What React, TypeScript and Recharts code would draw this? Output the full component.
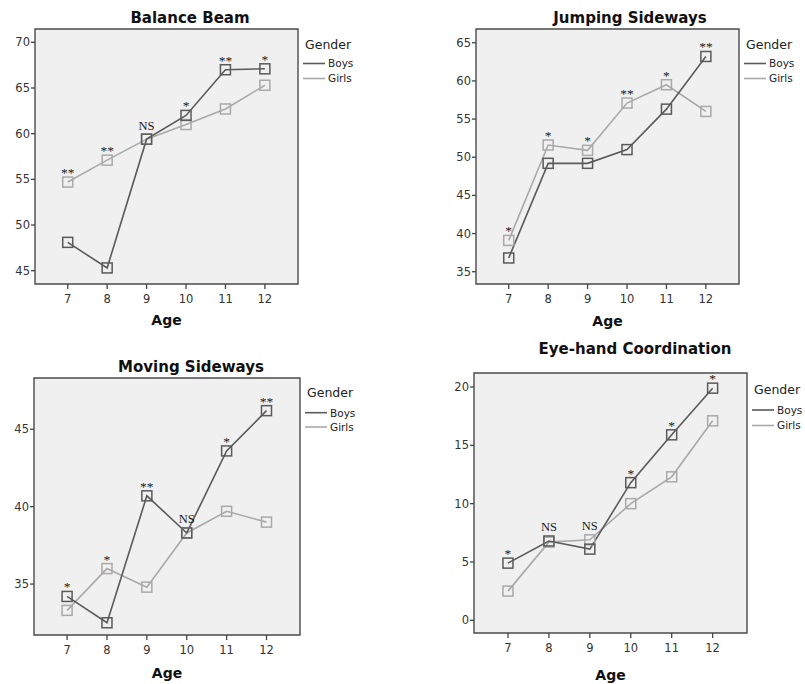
import React from 'react';
import { LineChart, Line, XAxis, YAxis, ReferenceArea, LabelList, Label } from 'recharts';

const ages = [7, 8, 9, 10, 11, 12];
const xTicks = [7, 8, 9, 10, 11, 12];

const balanceBoys = [48.1, 45.3, 59.4, 62.0, 67.0, 67.1];
const balanceGirls = [54.7, 57.1, 59.4, 61.0, 62.7, 65.3];
const balanceSig = ['**', '**', 'NS', '*', '**', '*'];
const balanceTicks = [45, 50, 55, 60, 65, 70];

const jumpBoys = [36.8, 49.2, 49.2, 51.0, 56.3, 63.2];
const jumpGirls = [39.1, 51.6, 50.9, 57.1, 59.5, 56.0];
const jumpSig = ['*', '*', '*', '**', '*', '**'];
const jumpTicks = [35, 40, 45, 50, 55, 60, 65];

const moveBoys = [34.2, 32.5, 40.7, 38.3, 43.6, 46.2];
const moveGirls = [33.3, 36.0, 34.8, 38.3, 39.7, 39.0];
const moveSig = ['*', '*', '**', 'NS', '*', '**'];
const moveTicks = [35, 40, 45];

const eyeBoys = [4.9, 6.8, 6.1, 11.8, 15.9, 19.9];
const eyeGirls = [2.5, 6.7, 6.9, 10.0, 12.3, 17.1];
const eyeSig = ['*', 'NS', 'NS', '*', '*', '*'];
const eyeTicks = [0, 5, 10, 15, 20];

const X_DOMAIN: [number, number] = [6.17, 12.84];
const SANS = '"DejaVu Sans", sans-serif';
const SERIF = '"Liberation Serif", "Times New Roman", serif';
const BOYS_COLOR = '#5a5a5a';
const GIRLS_COLOR = '#a9a9a9';

type Panel = {
  title: string;
  boys: number[];
  girls: number[];
  sig: string[];
  yDomain: [number, number];
  yTicks: number[];
  box: { l: number; t: number; r: number; b: number };
  titleX: number;
  titleY: number;
  legend: { g: number; b: number; gi: number };
  ageOffset: number;
};

const panels: Panel[] = [
  {
    title: 'Balance Beam', boys: balanceBoys, girls: balanceGirls, sig: balanceSig,
    yDomain: [43.54, 71.46], yTicks: balanceTicks,
    box: { l: 35, t: 29, r: 298, b: 284 }, titleX: 190, titleY: 23.3,
    legend: { g: 44, b: 63.5, gi: 78.5 }, ageOffset: 41,
  },
  {
    title: 'Jumping Sideways', boys: jumpBoys, girls: jumpGirls, sig: jumpSig,
    yDomain: [33.39, 66.8], yTicks: jumpTicks,
    box: { l: 476, t: 29, r: 739, b: 284 }, titleX: 630, titleY: 23.3,
    legend: { g: 44, b: 63.5, gi: 78.5 }, ageOffset: 42,
  },
  {
    title: 'Moving Sideways', boys: moveBoys, girls: moveGirls, sig: moveSig,
    yDomain: [31.71, 48.31], yTicks: moveTicks,
    box: { l: 34, t: 378, r: 300, b: 635 }, titleX: 191, titleY: 371.5,
    legend: { g: 392.3, b: 412.7, gi: 427 }, ageOffset: 43,
  },
  {
    title: 'Eye-hand Coordination', boys: eyeBoys, girls: eyeGirls, sig: eyeSig,
    yDomain: [-1.09, 21.2], yTicks: eyeTicks,
    box: { l: 474, t: 373, r: 747, b: 633 }, titleX: 635, titleY: 354,
    legend: { g: 389, b: 410, gi: 425.5 }, ageOffset: 47,
  },
];

const makeDot = (color: string) => (props: any) => {
  const { cx, cy, index } = props;
  if (cx == null || cy == null) return <g key={`e-${index}`} />;
  return (
    <rect key={`d-${index}`} x={cx - 5} y={cy - 5} width={10} height={10}
      fill="none" stroke={color} strokeWidth={1.5} />
  );
};

const SigLabel = (props: any) => {
  const { x, y, value, index } = props;
  if (x == null || y == null) return null;
  const isNS = value === 'NS';
  return (
    <text key={`s-${index}`} x={x} y={isNS ? y - 9.5 : y - 5} textAnchor="middle"
      fontFamily={SERIF} fontSize={isNS ? 12.5 : 13.5} fill="#1a1a1a">{value}</text>
  );
};

const PanelChart = ({ p }: { p: Panel }) => {
  const data = ages.map((age, i) => ({
    age,
    boys: p.boys[i],
    girls: p.girls[i],
    top: Math.max(p.boys[i], p.girls[i]),
    sig: p.sig[i],
  }));
  const padTop = 5;
  const plotW = p.box.r - p.box.l;
  const plotH = p.box.b - p.box.t;
  const width = plotW + 35 + 5;
  const height = padTop + plotH + p.ageOffset + 4;
  return (
    <div style={{ position: 'absolute', left: p.box.l - 35, top: p.box.t - padTop }}>
      <LineChart width={width} height={height} data={data}
        margin={{ top: padTop, right: 5, left: 5, bottom: 4 }}>
        <XAxis type="number" dataKey="age" domain={X_DOMAIN} ticks={xTicks}
          allowDataOverflow axisLine={false} tickSize={5} tickMargin={6}
          tickLine={{ stroke: '#444', strokeWidth: 1.3 }}
          tick={{ fill: '#333', fontSize: 11.5, fontFamily: SANS }}
          height={p.ageOffset} interval={0}>
          <Label value="Age" position="insideBottom" offset={0}
            style={{ fontFamily: SANS, fontWeight: 'bold', fontSize: 14, fill: '#111' }} />
        </XAxis>
        <YAxis type="number" domain={p.yDomain} ticks={p.yTicks} allowDataOverflow
          axisLine={false} width={30} tickSize={4} tickMargin={1}
          tickLine={{ stroke: '#444', strokeWidth: 1.3 }}
          tick={{ fill: '#333', fontSize: 11.5, fontFamily: SANS }} interval={0} />
        <ReferenceArea x1={X_DOMAIN[0]} x2={X_DOMAIN[1]} y1={p.yDomain[0]} y2={p.yDomain[1]}
          fill="#f0f0f0" fillOpacity={1} stroke="#4a4a4a" strokeWidth={1.4} ifOverflow="visible" />
        <Line type="linear" dataKey="girls" stroke={GIRLS_COLOR} strokeWidth={1.6}
          dot={makeDot(GIRLS_COLOR)} activeDot={false} isAnimationActive={false} />
        <Line type="linear" dataKey="boys" stroke={BOYS_COLOR} strokeWidth={1.6}
          dot={makeDot(BOYS_COLOR)} activeDot={false} isAnimationActive={false} />
        <Line type="linear" dataKey="top" stroke="none" dot={false} activeDot={false}
          isAnimationActive={false} legendType="none">
          <LabelList dataKey="sig" content={SigLabel} />
        </Line>
      </LineChart>
    </div>
  );
};

const Overlay = () => (
  <svg width={805} height={684}
    style={{ position: 'absolute', left: 0, top: 0, pointerEvents: 'none' }}>
    {panels.map((p) => (
      <g key={p.title}>
        <text x={p.titleX} y={p.titleY} textAnchor="middle" fontFamily={SANS}
          fontWeight="bold" fontSize={15} fill="#111">{p.title}</text>
        <text x={p.box.r + 7} y={p.legend.g + 4.5} fontFamily={SANS} fontSize={12.5}
          fill="#222">Gender</text>
        <line x1={p.box.r + 5} x2={p.box.r + 27} y1={p.legend.b} y2={p.legend.b}
          stroke={BOYS_COLOR} strokeWidth={1.6} />
        <text x={p.box.r + 30} y={p.legend.b + 3.8} fontFamily={SANS} fontSize={10.5}
          fill="#222">Boys</text>
        <line x1={p.box.r + 5} x2={p.box.r + 27} y1={p.legend.gi} y2={p.legend.gi}
          stroke={GIRLS_COLOR} strokeWidth={1.6} />
        <text x={p.box.r + 30} y={p.legend.gi + 3.8} fontFamily={SANS} fontSize={10.5}
          fill="#222">Girls</text>
      </g>
    ))}
  </svg>
);

export default function App() {
  return (
    <div style={{ position: 'absolute', left: 0, top: 0, width: 805, height: 684,
      background: '#fff', overflow: 'hidden' }}>
      {panels.map((p) => <PanelChart key={p.title} p={p} />)}
      <Overlay />
    </div>
  );
}
